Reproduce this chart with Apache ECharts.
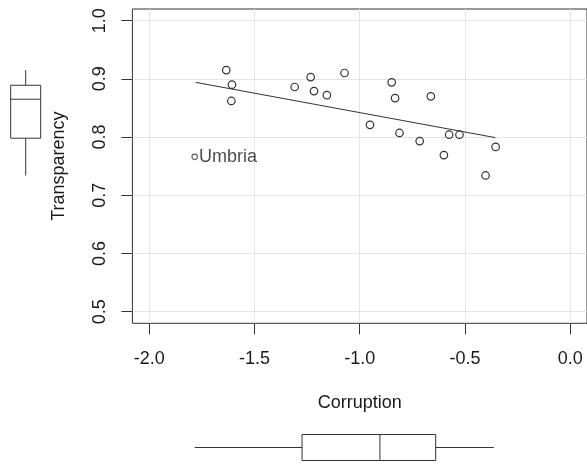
<!DOCTYPE html>
<html>
<head>
<meta charset="utf-8">
<script src="https://cdn.jsdelivr.net/npm/echarts@6/dist/echarts.min.js"></script>
<style>
  html, body { margin: 0; padding: 0; background: #fff; }
  #main { width: 587px; height: 469px; }
</style>
</head>
<body>
<div id="main"></div>
<script>
// x = Corruption, y = Transparency
var corruption   = [-1.634, -1.607, -1.610, -1.309, -1.233, -1.217, -1.156, -1.072, -0.951, -0.848,
                    -0.832, -0.811, -0.715, -0.662, -0.600, -0.575, -0.526, -0.402, -0.354];
var transparency = [ 0.915,  0.890,  0.862,  0.886,  0.903,  0.879,  0.872,  0.910,  0.821,  0.894,
                     0.867,  0.807,  0.793,  0.870,  0.769,  0.804,  0.804,  0.734,  0.783];
var umbria = [-1.784, 0.766];
// fitted line ends
var fitX = [-1.78, -0.355];
var fitY = [0.894, 0.799];
// marginal boxplots: min, q1, median, q3, max
var transBox = [0.734, 0.798, 0.865, 0.889, 0.915];
var corrBox  = [-1.784, -1.274, -0.904, -0.639, -0.363];
// tick labels
var xTicks = [-2, -1.5, -1, -0.5, 0];
var yTicks = [0.5, 0.6, 0.7, 0.8, 0.9, 1.0];

var FONT = 'Liberation Sans';
var INK = '#333';

var pts = [];
for (var i = 0; i < corruption.length; i++) {
    pts.push([corruption[i], transparency[i]]);
}
var fit = [[fitX[0], fitY[0]], [fitX[1], fitY[1]]];

//画箱线图 (no staples, like R)
function boxRender(horizontal, size) {
    return function (params, api) {
        var v = [api.value(0), api.value(1), api.value(2), api.value(3), api.value(4)];
        var p = v.map(function (d) {
            return horizontal ? api.coord([d, 0.5]) : api.coord([0.5, d]);
        });
        var st = { stroke: INK, lineWidth: 1, fill: null };
        var h = size / 2;
        var kids = [];
        if (horizontal) {
            var cy = p[0][1];
            kids.push({ type: 'line', shape: { x1: p[0][0], y1: cy, x2: p[1][0], y2: cy }, style: st });
            kids.push({ type: 'line', shape: { x1: p[3][0], y1: cy, x2: p[4][0], y2: cy }, style: st });
            kids.push({ type: 'rect', shape: { x: p[1][0], y: cy - h, width: p[3][0] - p[1][0], height: size }, style: { stroke: INK, lineWidth: 1, fill: '#fff' } });
            kids.push({ type: 'line', shape: { x1: p[2][0], y1: cy - h, x2: p[2][0], y2: cy + h }, style: st });
        } else {
            var cx = p[0][0];
            kids.push({ type: 'line', shape: { x1: cx, y1: p[0][1], x2: cx, y2: p[1][1] }, style: st });
            kids.push({ type: 'line', shape: { x1: cx, y1: p[3][1], x2: cx, y2: p[4][1] }, style: st });
            kids.push({ type: 'rect', shape: { x: cx - h, y: p[3][1], width: size, height: p[1][1] - p[3][1] }, style: { stroke: INK, lineWidth: 1, fill: '#fff' } });
            kids.push({ type: 'line', shape: { x1: cx - h, y1: p[2][1], x2: cx + h, y2: p[2][1] }, style: st });
        }
        return { type: 'group', children: kids };
    };
}

var chart = echarts.init(document.getElementById('main'));
var option = {
    animation: false,
    backgroundColor: '#fff',
    textStyle: { fontFamily: FONT },
    grid: [
        { left: 132.4, top: 9, width: 456, height: 314.3, show: true, borderColor: INK, borderWidth: 1, backgroundColor: 'transparent' },
        { left: 0, top: 9, width: 51.4, height: 314.3 },
        { left: 132.4, top: 426, width: 456, height: 52 }
    ],
    xAxis: [
        {
            gridIndex: 0, type: 'value', min: -2.08, max: 0.08,
            name: 'Corruption', nameLocation: 'middle', nameGap: 71,
            nameTextStyle: { fontSize: 18, color: '#1a1a1a', fontFamily: FONT },
            axisLine: { show: false, onZero: false },
            axisTick: { show: true, length: 11, lineStyle: { color: INK }, customValues: xTicks },
            axisLabel: { customValues: xTicks, fontSize: 18, color: '#1a1a1a', margin: 27, fontFamily: FONT,
                formatter: function (v) { return v.toFixed(1); } },
            splitLine: { show: true, lineStyle: { color: '#e4e4e4', width: 1 } }
        },
        { gridIndex: 1, type: 'value', min: 0, max: 1, show: false },
        { gridIndex: 2, type: 'value', min: -2.08, max: 0.08, show: false }
    ],
    yAxis: [
        {
            gridIndex: 0, type: 'value', min: 0.48, max: 1.02,
            name: 'Transparency', nameLocation: 'middle', nameGap: 64, nameRotate: 90,
            nameTextStyle: { fontSize: 18, color: '#1a1a1a', fontFamily: FONT },
            axisLine: { show: false, onZero: false },
            axisTick: { show: true, length: 11, lineStyle: { color: INK }, customValues: yTicks },
            axisLabel: { customValues: yTicks, fontSize: 18, color: '#1a1a1a', margin: 23, rotate: 90, fontFamily: FONT,
                formatter: function (v) { return v.toFixed(1); } },
            splitLine: { show: true, lineStyle: { color: '#e4e4e4', width: 1 } }
        },
        { gridIndex: 1, type: 'value', min: 0.48, max: 1.02, show: false },
        { gridIndex: 2, type: 'value', min: 0, max: 1, show: false }
    ],
    series: [
        {
            type: 'line', xAxisIndex: 0, yAxisIndex: 0, data: fit,
            symbol: 'none', lineStyle: { color: INK, width: 1 }, silent: true
        },
        {
            type: 'scatter', xAxisIndex: 0, yAxisIndex: 0, data: pts,
            symbol: 'circle', symbolSize: 7.5,
            itemStyle: { color: 'rgba(255,255,255,0)', borderColor: INK, borderWidth: 1.2, opacity: 1 }
        },
        {
            type: 'scatter', xAxisIndex: 0, yAxisIndex: 0, data: [umbria],
            symbol: 'circle', symbolSize: 5.5,
            itemStyle: { color: 'rgba(255,255,255,0)', borderColor: INK, borderWidth: 1.1 },
            label: { show: true, position: 'right', distance: 1, formatter: 'Umbria',
                fontSize: 18, color: '#1a1a1a', fontFamily: FONT }
        },
        {
            type: 'custom', xAxisIndex: 1, yAxisIndex: 1,
            renderItem: boxRender(false, 30), data: [transBox]
        },
        {
            type: 'custom', xAxisIndex: 2, yAxisIndex: 2,
            renderItem: boxRender(true, 26), data: [corrBox]
        }
    ]
};
chart.setOption(option);
</script>
</body>
</html>
